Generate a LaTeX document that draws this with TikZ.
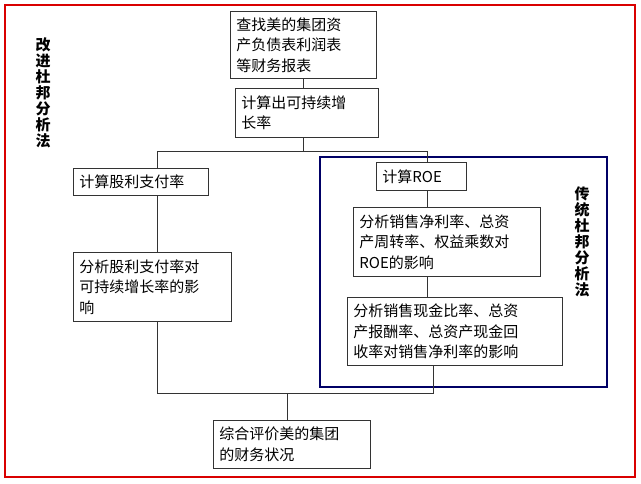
\documentclass[tikz,border=0pt]{standalone}
\usepackage{fontspec}
\setmainfont{Noto Sans CJK SC}
\begin{document}
\begin{tikzpicture}[x=1pt,y=-1pt,
  box/.style={draw=black!80,line width=0.8pt,anchor=north west,align=left,inner xsep=6pt,inner ysep=3pt,font=\fontsize{15}{20.5}\selectfont},
  conn/.style={draw=black!80,line width=0.8pt},
  lab/.style={align=center,font=\fontsize{15}{16}\selectfont\bfseries}]
\useasboundingbox (0,0) rectangle (641,483);
\draw[red!85!black,line width=1.2pt] (5,5) rectangle (635,477);
\draw[blue!40!black,line width=2.2pt] (320,157) rectangle (607,387);
\node[box,text width=134pt,minimum height=67pt] (b1) at (230,11) {查找美的集团资\\产负债表利润表\\等财务报表};
\node[box,text width=131pt,minimum height=49pt] (b2) at (235,88) {计算出可持续增\\长率};
\node[box,text width=123pt,minimum height=27pt] (b3) at (73,168) {计算股利支付率};
\node[box,text width=146pt,minimum height=69pt] (b4) at (73,252) {分析股利支付率对\\可持续增长率的影\\响};
\node[box,text width=78pt,minimum height=28pt] (b5) at (376,162) {计算ROE};
\node[box,text width=175pt,minimum height=69pt] (b6) at (353,207) {分析销售净利率、总资\\产周转率、权益乘数对\\ROE的影响};
\node[box,text width=203pt,minimum height=68pt] (b7) at (347,297) {分析销售现金比率、总资\\产报酬率、总资产现金回\\收率对销售净利率的影响};
\node[box,text width=145pt,minimum height=48pt] (b8) at (213,420) {综合评价美的集团\\的财务状况};
\node[lab] (l1) at (43,93) {改\\进\\杜\\邦\\分\\析\\法};
\node[lab] (l2) at (582,242) {传\\统\\杜\\邦\\分\\析\\法};
\coordinate (s) at (303,151);
\coordinate (sl) at (157,151);
\coordinate (sr) at (427,151);
\coordinate (jl) at (157,393);
\coordinate (jr) at (433,393);
\coordinate (jm) at (287,393);
\draw[conn] (s |- b1.south) -- (s |- b2.north);
\draw[conn] (s |- b2.south) -- (s);
\draw[conn] (sl) -- (sr);
\draw[conn] (sl) -- (sl |- b3.north);
\draw[conn] (sl |- b3.south) -- (sl |- b4.north);
\draw[conn] (sl |- b4.south) -- (jl) -- (jr) -- (jr |- b7.south);
\draw[conn] (sr) -- (sr |- b5.north);
\draw[conn] (sr |- b5.south) -- (sr |- b6.north);
\draw[conn] (sr |- b6.south) -- (sr |- b7.north);
\draw[conn] (jm) -- (jm |- b8.north);
\end{tikzpicture}
\end{document}
